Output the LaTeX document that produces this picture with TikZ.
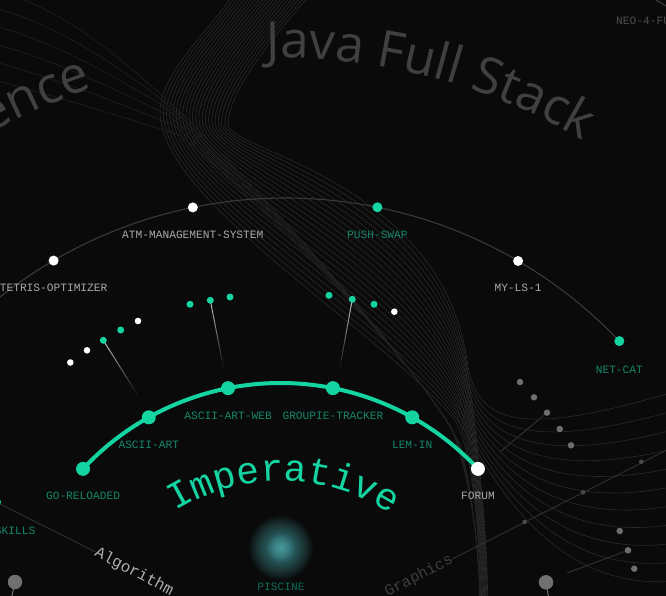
\documentclass[tikz,border=0pt]{standalone}
\usepackage{fontspec}
\newfontfamily\monof{Liberation Mono}
\newfontfamily\sansf{Open Sans}
\usetikzlibrary{calc,decorations.text}
\definecolor{bgc}{HTML}{0A0A0A}
\definecolor{grn}{HTML}{14D4A2}
\definecolor{grnlab}{HTML}{15876B}
\definecolor{pisclab}{HTML}{0F6B57}
\definecolor{wlabc}{HTML}{A9A9A9}
\definecolor{arcc}{HTML}{3A3A3A}
\definecolor{wavec}{HTML}{222222}
\definecolor{funnelc}{HTML}{2A2A2A}
\definecolor{titlec}{HTML}{404040}
\definecolor{neoc}{HTML}{4E4E4E}
\definecolor{dotc}{HTML}{6E6E6E}
\definecolor{ldotc}{HTML}{4A4A4A}
\definecolor{bigdotc}{HTML}{707070}
\definecolor{linec}{HTML}{2E2E2E}
\definecolor{fadec}{HTML}{D0D0D0}
\definecolor{glowc}{HTML}{62D2D6}
\definecolor{algc}{HTML}{B0B0B0}
\definecolor{graphc}{HTML}{3E3E3E}
\begin{document}
\begin{tikzpicture}[x=1pt,y=-1pt,
  lab/.style={font=\monof\fontsize{11.2}{13}\selectfont, anchor=base, inner sep=0pt},
  glab/.style={lab,text=grnlab},
  wlab/.style={lab,text=wlabc},
  bignode/.style={circle,fill=grn,minimum size=14pt,inner sep=0pt},
  bigwhite/.style={circle,fill=white,minimum size=14pt,inner sep=0pt},
  arcnode/.style={circle,fill=white,minimum size=10pt,inner sep=0pt},
  arcgnode/.style={circle,fill=grn,minimum size=10pt,inner sep=0pt},
  wdot/.style={circle,fill=white,minimum size=6.6pt,inner sep=0pt},
  gdot/.style={circle,fill=grn,minimum size=7pt,inner sep=0pt},
  graydot/.style={circle,fill=dotc,minimum size=6.5pt,inner sep=0pt},
  linedot/.style={circle,fill=ldotc,minimum size=4.6pt,inner sep=0pt},
  bigdot/.style={circle,fill=bigdotc,minimum size=14.5pt,inner sep=0pt},
  wave/.style={draw=wavec,line width=0.6pt},
  funnel/.style={draw=funnelc,line width=0.6pt},
  arcline/.style={draw=arcc,line width=1.1pt},
  thinline/.style={draw=linec,line width=1pt},
]
\fill[bgc] (0,0) rectangle (666,596);
\useasboundingbox (0,0) rectangle (666,596);
\clip (0,0) rectangle (666,596);

% ---------- background waves ----------
% funnel lines: even ones sink into the vertical bundle, odd ones swoosh to the right edge
\foreach \k in {0,...,21}{
  \pgfmathsetmacro\v{\k/21}
  \pgfmathsetmacro\w{1-\v}
  \pgfmathtruncatemacro\odd{mod(\k,2)}
  \ifnum\odd=0
    \draw[funnel] ({233+77*\v},-5) .. controls ({205+70*\v},35) and ({160+68*\v},{75+15*\v}) .. ({160+68*\v},{112+13*\v})
       .. controls ({160+68*\v},{200-50*\v}) and ({380+60*\v},{330-150*\v}) .. ({455+12*\v},{420-60*\v})
       .. controls ({470+3*\v},{445-40*\v}) and ({480+8*\v},520) .. ({480+8*\v},600);
  \else
    \draw[funnel] ({233+77*\v},-5) .. controls ({205+70*\v},35) and ({160+68*\v},{75+15*\v}) .. ({160+68*\v},{112+13*\v})
       .. controls ({160+68*\v},{200-50*\v}) and ({380+60*\v},{330-150*\v}) .. ({455+12*\v},{420-60*\v})
       .. controls ({481-5*\v},{451-28*\v}) and ({515+25*\w},{440+165*\w}) .. (680,{390+200*\w});
  \fi
}
% top-left diagonal waves
\foreach \j in {0,...,5}{
  \draw[wave] (-5,{-10+18*\j}) .. controls (50,{5+18*\j}) and (100,{40+14*\j}) .. ({150+6*\j},{85+10*\j})
     .. controls ({210+6*\j},{135+10*\j}) and ({380+8*\j},{320+8*\j}) .. ({450+2*\j},{425+4*\j})
     .. controls (468,470) and (478,530) .. (480,600);
}

% ---------- centres ----------
\coordinate (C1) at (285.5,659);
\coordinate (C2) at (280.5,653);
\coordinate (C3) at (281,680);

% ---------- big curved titles ----------
\path[decorate,decoration={text along path, text={|\sansf\fontsize{51}{60}\selectfont|Java Full Stack}, text align=center, text color=titlec}]
  ($(C2)+(-102:595)$) arc[start angle=-102, end angle=-48.8, radius=595];
\path[decorate,decoration={text along path, text={|\sansf\fontsize{51}{60}\selectfont|ence}, text align=right, text color=titlec}]
  ($(C2)+(-140:595)$) arc[start angle=-140, end angle=-108.4, radius=595];

% ---------- outer arcs ----------
\coordinate (oarcL) at ($(C1)+(-131:461)$);
\draw[arcline] (oarcL) arc[start angle=-131, end angle=-43.6, radius=461];
\coordinate (neoarc) at ($(C1)+(-63:756)$);
\draw[arcline] (neoarc) arc[start angle=-63, end angle=-55, radius=756];

\node[arcnode]  (tetris) at ($(C1)+(-120.2:461)$) {};
\node[arcnode]  (atm)    at ($(C1)+(-101.6:461)$) {};
\node[arcgnode] (push)   at ($(C1)+(-78.5:461)$) {};
\node[arcnode]  (myls)   at ($(C1)+(-59.7:461)$) {};
\node[arcgnode] (netcat) at ($(C1)+(-43.6:461)$) {};
\node[wlab] (ltetris) at ($(tetris)+(0,31)$) {TETRIS-OPTIMIZER};
\node[wlab] (latm)    at ($(atm)+(0,31)$) {ATM-MANAGEMENT-SYSTEM};
\node[glab] (lpush)   at ($(push)+(0,31)$) {PUSH-SWAP};
\node[wlab] (lmyls)   at ($(myls)+(0,31)$) {MY-LS-1};
\node[glab] (lnetcat) at ($(netcat)+(0,32)$) {NET-CAT};
\node[lab,anchor=base west,text=neoc] (lneo) at (616,25) {NEO-4-FU};

% ---------- small dot groups with fading stems ----------
\node[wdot] (d1) at (70.3,362.5) {};
\node[wdot] (d2) at (87,350.3) {};
\coordinate (d3c) at (103.3,340.3);
\node[gdot] (d4) at (120.7,330) {};
\node[wdot] (d5) at (138,321) {};
\coordinate (m2c) at (210.3,300.3);
\coordinate (r2c) at (352.3,299.3);
\coordinate (e1) at (137,394);
\coordinate (e2) at (223.3,366.7);
\coordinate (e3) at (340,366.7);
\foreach \s in {0,...,9}{
  \pgfmathsetmacro\pa{\s/10}
  \pgfmathsetmacro\pb{(\s+1)/10}
  \pgfmathsetmacro\op{0.9*(1-\s/10)}
  \draw[fadec,line width=1pt,opacity=\op] ($(d3c)!\pa!(e1)$) -- ($(d3c)!\pb!(e1)$);
  \draw[fadec,line width=1pt,opacity=\op] ($(m2c)!\pa!(e2)$) -- ($(m2c)!\pb!(e2)$);
  \draw[fadec,line width=1pt,opacity=\op] ($(r2c)!\pa!(e3)$) -- ($(r2c)!\pb!(e3)$);
}
\node[gdot] (d3) at (d3c) {};
\node[gdot] (m1) at (190,304.3) {};
\node[gdot] (m2) at (m2c) {};
\node[gdot] (m3) at (230,297) {};
\node[gdot] (r1) at (329,295.3) {};
\node[gdot] (r2) at (r2c) {};
\node[gdot] (r3) at (374,304.3) {};
\node[wdot] (r4) at (394.3,311.7) {};

% ---------- right grey group ----------
\coordinate (g3c) at (547,412.7);
\coordinate (gend) at (500,452);
\draw[thinline] (g3c) -- (gend);
\node[graydot] (g1) at (520,382) {};
\node[graydot] (g2) at (534,397.3) {};
\node[graydot] (g3) at (g3c) {};
\node[graydot] (g4) at (559.7,429) {};
\node[graydot] (g5) at (571,445.3) {};

% ---------- Graphics ----------
\node[font=\monof\fontsize{15.5}{18}\selectfont, text=graphc, rotate=27, inner sep=0pt] (graph) at (419,576) {Graphics};
\coordinate (grend) at (668,449.4);
\draw[thinline] (graph.east) -- (grend);
\node[linedot] (gl1) at (524.7,522) {};
\node[linedot] (gl2) at (583,492.3) {};
\node[linedot] (gl3) at (641.3,461.7) {};

% lower right dots
\coordinate (lr2c) at (628,550.3);
\coordinate (lrend) at (567,573);
\draw[thinline] (lr2c) -- (lrend);
\node[graydot] (lr1) at (619.7,531) {};
\node[graydot] (lr2) at (lr2c) {};
\node[graydot] (lr3) at (634.3,568.7) {};
\coordinate (bd1c) at (546,582.3);
\coordinate (bd1e) at (549,600);
\draw[draw=bigdotc,line width=1pt] (bd1c) -- (bd1e);
\node[bigdot] (bd1) at (bd1c) {};
\coordinate (bd2c) at (15,582);
\coordinate (bd2e) at (11,600);
\draw[draw=bigdotc,line width=1pt] (bd2c) -- (bd2e);
\node[bigdot] (bd2) at (bd2c) {};

% ---------- Skills / Algorithm ----------
\node[font=\monof\fontsize{16}{18}\selectfont, text=algc, rotate=-27.5, inner sep=0pt] (algo) at (134,572) {Algorithm};
\coordinate (skc) at (-4,502);
\draw[thinline] (skc) -- (algo.west);
\node[arcgnode] (skills) at (skc) {};
\node[glab,anchor=base east] (lskills) at (35.5,534) {SKILLS};

% ---------- Piscine glow ----------
\coordinate (pisc) at (281,548);
\foreach \r in {32,31,...,16}{
  \fill[glowc,opacity=0.028] (pisc) circle (\r);
}
\foreach \r in {15,14,...,1}{
  \fill[glowc,opacity=0.06] (pisc) circle (\r);
}
\node[lab,text=pisclab] (lpisc) at ($(pisc)+(0,42)$) {PISCINE};

% ---------- Imperative arc ----------
\coordinate (goc) at ($(C2)+(-137:270)$);
\draw[grn,line width=4pt] (goc) arc[start angle=-137, end angle=-43, radius=270];
\node[bignode]  (go)      at (goc) {};
\node[bignode]  (ascii)   at ($(C2)+(-119.2:270)$) {};
\node[bignode]  (web)     at ($(C2)+(-101.2:270)$) {};
\node[bignode]  (groupie) at ($(C2)+(-78.8:270)$) {};
\node[bignode]  (lemin)   at ($(C2)+(-60.8:270)$) {};
\node[bigwhite] (forum)   at ($(C2)+(-43:270)$) {};
\node[glab] (lgo)      at ($(go)+(0,31)$) {GO-RELOADED};
\node[glab] (lascii)   at ($(ascii)+(0,31)$) {ASCII-ART};
\node[glab] (lweb)     at ($(web)+(0,31)$) {ASCII-ART-WEB};
\node[glab] (lgroupie) at ($(groupie)+(0,31)$) {GROUPIE-TRACKER};
\node[glab] (llemin)   at ($(lemin)+(0,31)$) {LEM-IN};
\node[wlab] (lforum)   at ($(forum)+(0,31)$) {FORUM};

\path[decorate,decoration={text along path, text={|\monof\fontsize{38}{44}\selectfont|Imperative}, text align=center, text color=grn}]
  ($(C3)+(-150:199)$) arc[start angle=-150, end angle=-28.4, radius=199];
\end{tikzpicture}
\end{document}
